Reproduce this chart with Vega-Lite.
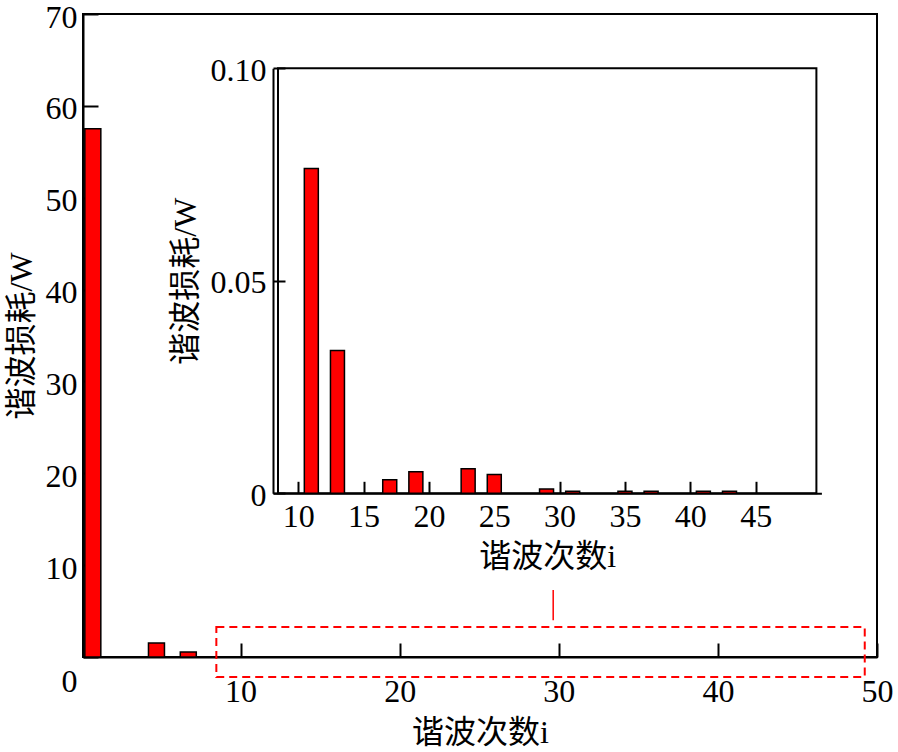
{
  "$schema": "https://vega.github.io/schema/vega-lite/v6.json",
  "width": 794,
  "height": 643,
  "autosize": {"type": "none"},
  "padding": {"left": 83, "top": 14, "right": 21, "bottom": 95},
  "background": "white",
  "config": {
    "view": {"stroke": "black", "strokeWidth": 2},
    "font": "Liberation Serif",
    "axis": {
      "grid": false,
      "domainColor": "black",
      "domainWidth": 2,
      "tickColor": "black",
      "tickWidth": 2,
      "labelFont": "Liberation Serif",
      "labelFontSize": 32,
      "labelColor": "black",
      "labelFlush": false,
      "labelOverlap": false,
      "titleFont": "Liberation Serif, Noto Sans CJK SC",
      "titleFontSize": 32,
      "titleFontWeight": "normal",
      "titleColor": "black"
    }
  },
  "datasets": {
    "main": [
      {"harmonic": 1, "loss": 57.5},
      {"harmonic": 5, "loss": 1.52},
      {"harmonic": 7, "loss": 0.54}
    ],
    "inset": [
      {"harmonic": 11, "loss": 0.0764},
      {"harmonic": 13, "loss": 0.0336},
      {"harmonic": 17, "loss": 0.0032},
      {"harmonic": 19, "loss": 0.0051},
      {"harmonic": 23, "loss": 0.0058},
      {"harmonic": 25, "loss": 0.0044},
      {"harmonic": 29, "loss": 0.001},
      {"harmonic": 31, "loss": 0.0005},
      {"harmonic": 35, "loss": 0.0005},
      {"harmonic": 37, "loss": 0.0005},
      {"harmonic": 41, "loss": 0.0005},
      {"harmonic": 43, "loss": 0.0005}
    ]
  },
  "layer": [
    {
      "layer": [
        {
          "data": {"name": "main"},
          "mark": {"type": "rect", "xOffset": -12.5, "x2Offset": 3.5, "fill": "#ff0000", "stroke": "black", "strokeWidth": 1.5},
          "encoding": {
            "x": {
              "field": "harmonic", "type": "quantitative",
              "scale": {"domain": [0.1, 50], "nice": false, "zero": false},
              "axis": {"orient": "bottom", "values": [10, 20, 30, 40, 50], "tickSize": -14, "labelPadding": 33, "title": "谐波次数i", "titlePadding": 10}
            },
            "x2": {"field": "harmonic"},
            "y": {
              "field": "loss", "type": "quantitative",
              "scale": {"domain": [0, 70], "nice": false},
              "axis": {"orient": "left", "values": [0, 10, 20, 30, 40, 50, 60, 70], "tickSize": -15, "labelPadding": 21, "labelBaseline": "middle",
                "labelOffset": {"condition": {"test": "datum.value === 0", "value": 24}, "value": 3},
                "title": "谐波损耗/W", "titlePadding": 7}
            },
            "y2": {"datum": 0}
          }
        },
        {
          "data": {"values": [{}]},
          "mark": {"type": "rect", "fill": "transparent", "stroke": "#ff0000", "strokeWidth": 2, "strokeDash": [8, 5]},
          "encoding": {
            "x": {"datum": 8.48, "type": "quantitative"},
            "x2": {"datum": 49.23},
            "y": {"datum": 3.27, "type": "quantitative"},
            "y2": {"datum": -2.18}
          }
        },
        {
          "data": {"values": [{}]},
          "mark": {"type": "rule", "stroke": "#ff0000", "strokeWidth": 1.5},
          "encoding": {
            "x": {"datum": 29.65, "type": "quantitative"},
            "y": {"datum": 7.3, "type": "quantitative"},
            "y2": {"datum": 4.0}
          }
        }
      ]
    },
    {
      "layer": [
        {
          "data": {"values": [{}]},
          "mark": {"type": "rect", "fill": "transparent", "stroke": "black", "strokeWidth": 2},
          "encoding": {
            "x": {"datum": 8.45, "type": "quantitative"},
            "x2": {"datum": 49.65},
            "y": {"datum": 0, "type": "quantitative"},
            "y2": {"datum": 0.1}
          }
        },
        {
          "data": {"name": "inset"},
          "mark": {"type": "bar", "size": 14, "fill": "#ff0000", "stroke": "black", "strokeWidth": 1.5},
          "encoding": {
            "x": {
              "field": "harmonic", "type": "quantitative",
              "scale": {"domain": [8.45, 49.65], "range": [190, 738.4], "nice": false, "zero": false},
              "axis": {"orient": "bottom", "offset": -163.7, "values": [10, 15, 20, 25, 30, 35, 40, 45], "tickSize": -12, "labelPadding": 20, "title": "谐波次数i", "titlePadding": 9}
            },
            "y": {
              "field": "loss", "type": "quantitative",
              "scale": {"domain": [0, 0.1], "range": [479.3, 54.3], "nice": false},
              "axis": {"orient": "left", "offset": -190, "values": [0, 0.05, 0.1], "tickSize": -12, "labelPadding": 19, "labelBaseline": "middle", "labelOffset": 2,
                "labelExpr": "datum.value === 0 ? '0' : format(datum.value, '.2f')",
                "title": "谐波损耗/W", "titlePadding": 8}
            }
          }
        }
      ]
    }
  ],
  "resolve": {"scale": {"x": "independent", "y": "independent"}, "axis": {"x": "independent", "y": "independent"}}
}
